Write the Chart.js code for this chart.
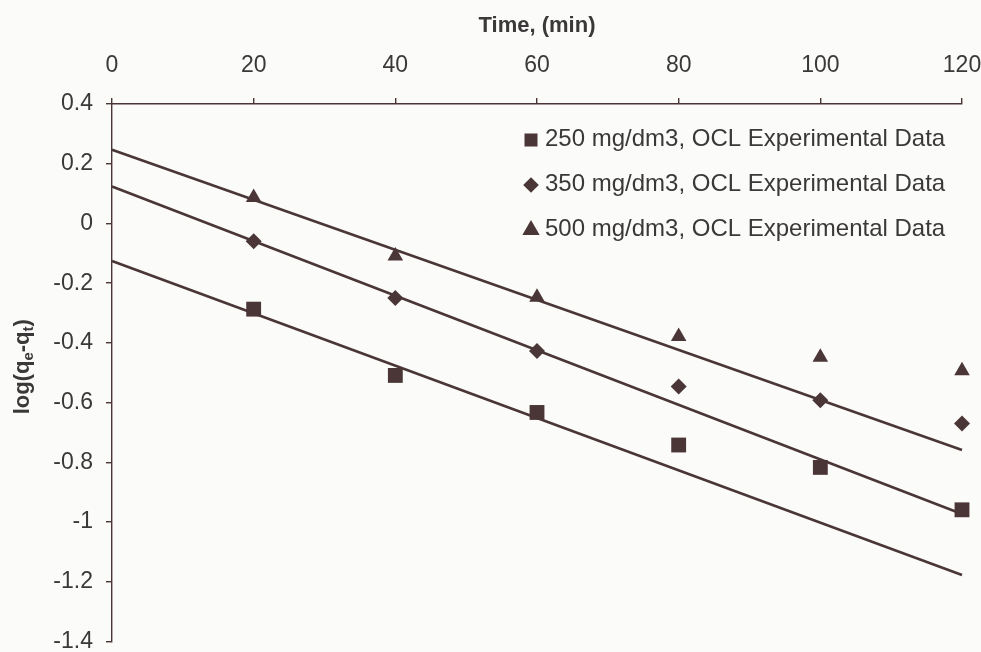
<!DOCTYPE html>
<html>
<head>
<meta charset="utf-8">
<script src="https://cdn.jsdelivr.net/npm/chart.js@4.4.0/dist/chart.umd.min.js"></script>
<style>
html,body{margin:0;padding:0;background:#fbfbf9;}
#wrap{width:981px;height:652px;}
canvas{display:block;}
</style>
</head>
<body>
<div id="wrap"><canvas id="c" width="981" height="652"></canvas></div>
<script>
// ---- data ----
const times = [20, 40, 60, 80, 100, 120];
const seriesLabels = [
  '250 mg/dm3, OCL Experimental Data',
  '350 mg/dm3, OCL Experimental Data',
  '500 mg/dm3, OCL Experimental Data'
];
const log250 = [-0.287, -0.509, -0.633, -0.742, -0.817, -0.959];
const log350 = [-0.060, -0.250, -0.427, -0.546, -0.592, -0.670];
const log500 = [0.087, -0.109, -0.247, -0.379, -0.448, -0.493];
// fitted straight lines (value at the start and end time)
const fitTimes = [0, 120];
const fit250 = [-0.126, -1.177];
const fit350 = [0.124, -0.973];
const fit500 = [0.247, -0.759];
// tick labels
const xTicks = [0, 20, 40, 60, 80, 100, 120];
const yTicks = [0.4, 0.2, 0, -0.2, -0.4, -0.6, -0.8, -1, -1.2, -1.4];
const xTitle = 'Time, (min)';

// ---- styles ----
const INK = '#4a3636';
const TXT = '#3a3838';
const FONT = '"Liberation Sans", Arial, Helvetica, sans-serif';

function pts(xs, ys) { return xs.map((x, i) => ({x: x, y: ys[i]})); }

const markerStyles = ['rect', 'rectRot', 'triangle'];
const markerRadius = [10.5, 8, 9];
const scatterSets = [log250, log350, log500].map((vals, i) => ({
  label: seriesLabels[i],
  data: pts(times, vals),
  showLine: false,
  pointStyle: markerStyles[i],
  pointRadius: markerRadius[i],
  pointBackgroundColor: INK,
  pointBorderColor: INK,
  pointBorderWidth: 0,
  clip: false,
  order: 0
}));
const lineSets = [fit250, fit350, fit500].map((vals) => ({
  label: 'fit',
  data: pts(fitTimes, vals),
  showLine: true,
  borderColor: INK,
  borderWidth: 2.6,
  pointRadius: 0,
  fill: false,
  clip: false,
  order: 1
}));

const bgPlugin = {
  id: 'bg',
  beforeDraw(chart) {
    const c = chart.ctx;
    c.save();
    c.fillStyle = '#fbfbf9';
    c.fillRect(0, 0, chart.width, chart.height);
    c.restore();
  }
};

const yTitlePlugin = {
  id: 'ytitle',
  afterDraw(chart) {
    const c = chart.ctx;
    const parts = [
      {t: 'log(q', sub: false},
      {t: 'e', sub: true},
      {t: '-q', sub: false},
      {t: 't', sub: true},
      {t: ')', sub: false}
    ];
    const mainF = 'bold 22px ' + FONT;
    const subF = 'bold 15px ' + FONT;
    c.save();
    let total = 0;
    parts.forEach(p => { c.font = p.sub ? subF : mainF; p.w = c.measureText(p.t).width; total += p.w; });
    const a = chart.chartArea;
    c.translate(22, (a.top + a.bottom) / 2 - 6);
    c.rotate(-Math.PI / 2);
    c.fillStyle = TXT;
    c.textBaseline = 'alphabetic';
    let x = -total / 2;
    parts.forEach(p => {
      c.font = p.sub ? subF : mainF;
      c.fillText(p.t, x, p.sub ? 11 : 7);
      x += p.w;
    });
    c.restore();
  }
};

const legendPlugin = {
  id: 'innerLegend',
  afterDraw(chart) {
    const c = chart.ctx;
    const rows = [139, 184, 229];
    const legR = [9.2, 7.8, 10];
    c.save();
    seriesLabels.forEach((lab, i) => {
      c.fillStyle = INK;
      c.strokeStyle = INK;
      const opts = {pointStyle: markerStyles[i], radius: legR[i], rotation: 0, borderWidth: 0};
      if (Chart.helpers && Chart.helpers.drawPoint) {
        Chart.helpers.drawPoint(c, opts, 531, rows[i] + 1);
      }
      c.fillStyle = TXT;
      c.font = '24px ' + FONT;
      c.textBaseline = 'middle';
      c.textAlign = 'left';
      c.fillText(lab, 545, rows[i]);
    });
    c.restore();
  }
};

new Chart(document.getElementById('c'), {
  type: 'scatter',
  data: { datasets: scatterSets.concat(lineSets) },
  options: {
    responsive: false,
    animation: false,
    devicePixelRatio: 1,
    layout: { padding: { left: 0, top: 0, right: 19, bottom: 8 } },
    plugins: {
      legend: { display: false },
      tooltip: { enabled: false }
    },
    scales: {
      x: {
        type: 'linear',
        position: 'top',
        min: 0,
        max: 120,
        afterBuildTicks: s => { s.ticks = xTicks.map(v => ({value: v})); },
        afterFit: s => { s.height = 104; s.paddingLeft = 0; s.paddingRight = 0; },
        grid: { display: true, drawOnChartArea: false, drawTicks: true, tickLength: 6, color: INK, lineWidth: 1.4 },
        border: { display: true, color: INK, width: 1.4 },
        ticks: { padding: 19, color: TXT, font: { family: FONT, size: 23 }, maxRotation: 0, autoSkip: false,
                 callback: v => String(v) },
        title: { display: true, text: xTitle, color: TXT, font: { family: FONT, size: 22, weight: 'bold' },
                 padding: { top: 13, bottom: 0 } }
      },
      y: {
        type: 'linear',
        min: -1.4,
        max: 0.4,
        afterBuildTicks: s => { s.ticks = yTicks.map(v => ({value: v})); },
        afterFit: s => { s.width = 112; s.paddingTop = 0; s.paddingBottom = 0; },
        grid: { display: true, drawOnChartArea: false, drawTicks: true, tickLength: 6, color: INK, lineWidth: 1.4 },
        border: { display: true, color: INK, width: 1.4 },
        ticks: { padding: 13, color: TXT, font: { family: FONT, size: 23 }, autoSkip: false,
                 callback: v => String(Math.round(v * 10) / 10) },
        title: { display: false }
      }
    }
  },
  plugins: [bgPlugin, yTitlePlugin, legendPlugin]
});
</script>
</body>
</html>
